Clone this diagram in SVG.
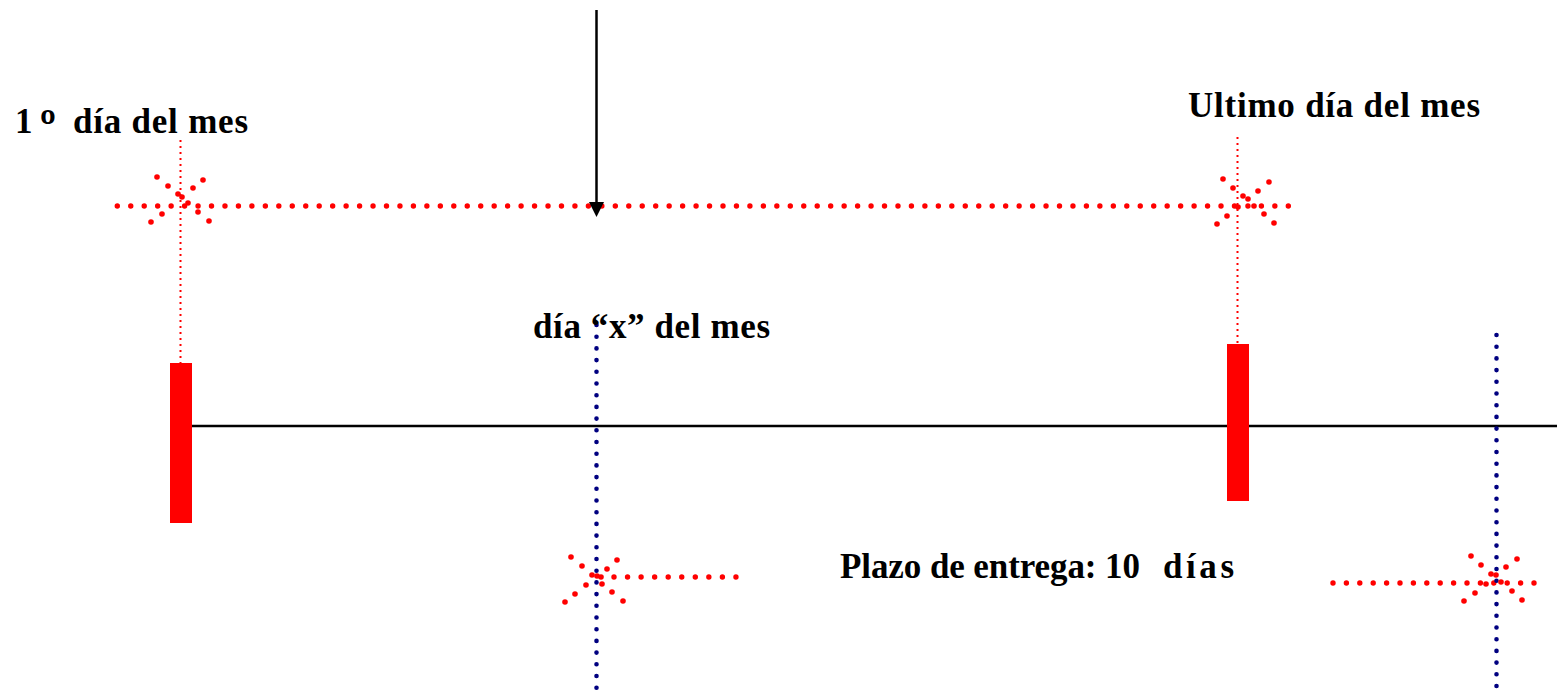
<svg xmlns="http://www.w3.org/2000/svg" width="1560" height="698" viewBox="0 0 1560 698">
<style>
.lbl{font-family:"Liberation Serif","DejaVu Serif",serif;font-weight:bold;font-size:35px;fill:#000}
.rdot{fill:none;stroke:#ff0000;stroke-width:5.4;stroke-linecap:round}
.thin{fill:none;stroke:#ff0000;stroke-width:2;stroke-dasharray:2 4}
.bdot{fill:none;stroke:#000080;stroke-width:4.6;stroke-linecap:round;stroke-dasharray:0 11.7}
.b circle{fill:#ff0000}
.bar{fill:#ff0000}
</style>
<rect width="1560" height="698" fill="#fff"/>
<g id="connectors">
  <line x1="190" y1="426" x2="1557" y2="426" stroke="#000" stroke-width="2.5"/>
  <line x1="180.5" y1="140" x2="180.5" y2="363" class="thin"/>
  <line x1="1237.5" y1="137" x2="1237.5" y2="344" class="thin"/>
  <path d="M117.3,206 H1289.5" class="rdot" stroke-dasharray="0 13.46"/>
  <path d="M614,577 H737" class="rdot" stroke-dasharray="0 13.55"/>
  <path d="M1333,583 H1535" class="rdot" stroke-dasharray="0 13.4"/>
  <path d="M596.5,325 V690" class="bdot"/>
  <path d="M1496.5,335 V690" class="bdot"/>
  <line x1="596.5" y1="10" x2="596.5" y2="204" stroke="#000" stroke-width="2.5"/>
  <polygon points="589,202 604,202 596.5,217" fill="#000"/>
</g>
<g id="bar-start"><rect class="bar" x="170" y="363" width="22" height="160"/></g>
<g id="bar-end"><rect class="bar" x="1227" y="344" width="22" height="157"/></g>
<g id="burst-1" class="b">
  <circle cx="157" cy="177" r="2.8"/><circle cx="168" cy="186" r="2.8"/><circle cx="178" cy="194" r="2.8"/><circle cx="182" cy="197" r="2.8"/>
  <circle cx="193" cy="188" r="2.8"/><circle cx="203" cy="180" r="2.8"/><circle cx="188" cy="203" r="2.8"/><circle cx="198" cy="212" r="2.8"/>
  <circle cx="209" cy="221" r="2.8"/><circle cx="162" cy="214" r="2.8"/><circle cx="151" cy="222" r="2.8"/>
</g>
<g id="burst-2" class="b">
  <circle cx="1223" cy="179" r="2.8"/><circle cx="1233" cy="188" r="2.8"/><circle cx="1243" cy="196" r="2.8"/><circle cx="1248" cy="199" r="2.8"/>
  <circle cx="1258" cy="191" r="2.8"/><circle cx="1269" cy="182" r="2.8"/><circle cx="1238" cy="207" r="2.8"/><circle cx="1254" cy="206" r="2.8"/>
  <circle cx="1264" cy="214" r="2.8"/><circle cx="1274" cy="223" r="2.8"/><circle cx="1227" cy="216" r="2.8"/><circle cx="1217" cy="224" r="2.8"/>
</g>
<g id="burst-3" class="b">
  <circle cx="571" cy="557" r="2.8"/><circle cx="582" cy="566" r="2.8"/><circle cx="592" cy="575" r="2.8"/><circle cx="597" cy="576" r="2.8"/>
  <circle cx="601" cy="577" r="2.8"/><circle cx="607" cy="569" r="2.8"/><circle cx="617" cy="560" r="2.8"/><circle cx="602" cy="584" r="2.8"/>
  <circle cx="612" cy="592" r="2.8"/><circle cx="623" cy="601" r="2.8"/><circle cx="586" cy="585" r="2.8"/><circle cx="575" cy="594" r="2.8"/>
  <circle cx="565" cy="602" r="2.8"/>
</g>
<g id="burst-4" class="b">
  <circle cx="1471" cy="556" r="2.8"/><circle cx="1481" cy="565" r="2.8"/><circle cx="1491" cy="574" r="2.8"/><circle cx="1496" cy="575" r="2.8"/>
  <circle cx="1506" cy="567" r="2.8"/><circle cx="1517" cy="559" r="2.8"/><circle cx="1486" cy="584" r="2.8"/><circle cx="1475" cy="593" r="2.8"/>
  <circle cx="1464" cy="601" r="2.8"/><circle cx="1512" cy="591" r="2.8"/><circle cx="1522" cy="600" r="2.8"/><circle cx="1501" cy="582" r="2.8"/>
</g>
<g id="label-first"><text class="lbl" y="133"><tspan x="15">1</tspan><tspan x="40" dy="9" font-size="48">º</tspan><tspan x="73" dy="-9" textLength="175">día del mes</tspan></text></g>
<g id="label-last"><text class="lbl" x="1188" y="117" textLength="292">Ultimo día del mes</text></g>
<g id="label-x"><text class="lbl" x="533" y="338" textLength="237">día “x” del mes</text></g>
<g id="label-plazo"><text class="lbl" y="578"><tspan x="840" textLength="300">Plazo de entrega: 10</tspan><tspan x="1163" textLength="71">días</tspan></text></g>
</svg>
